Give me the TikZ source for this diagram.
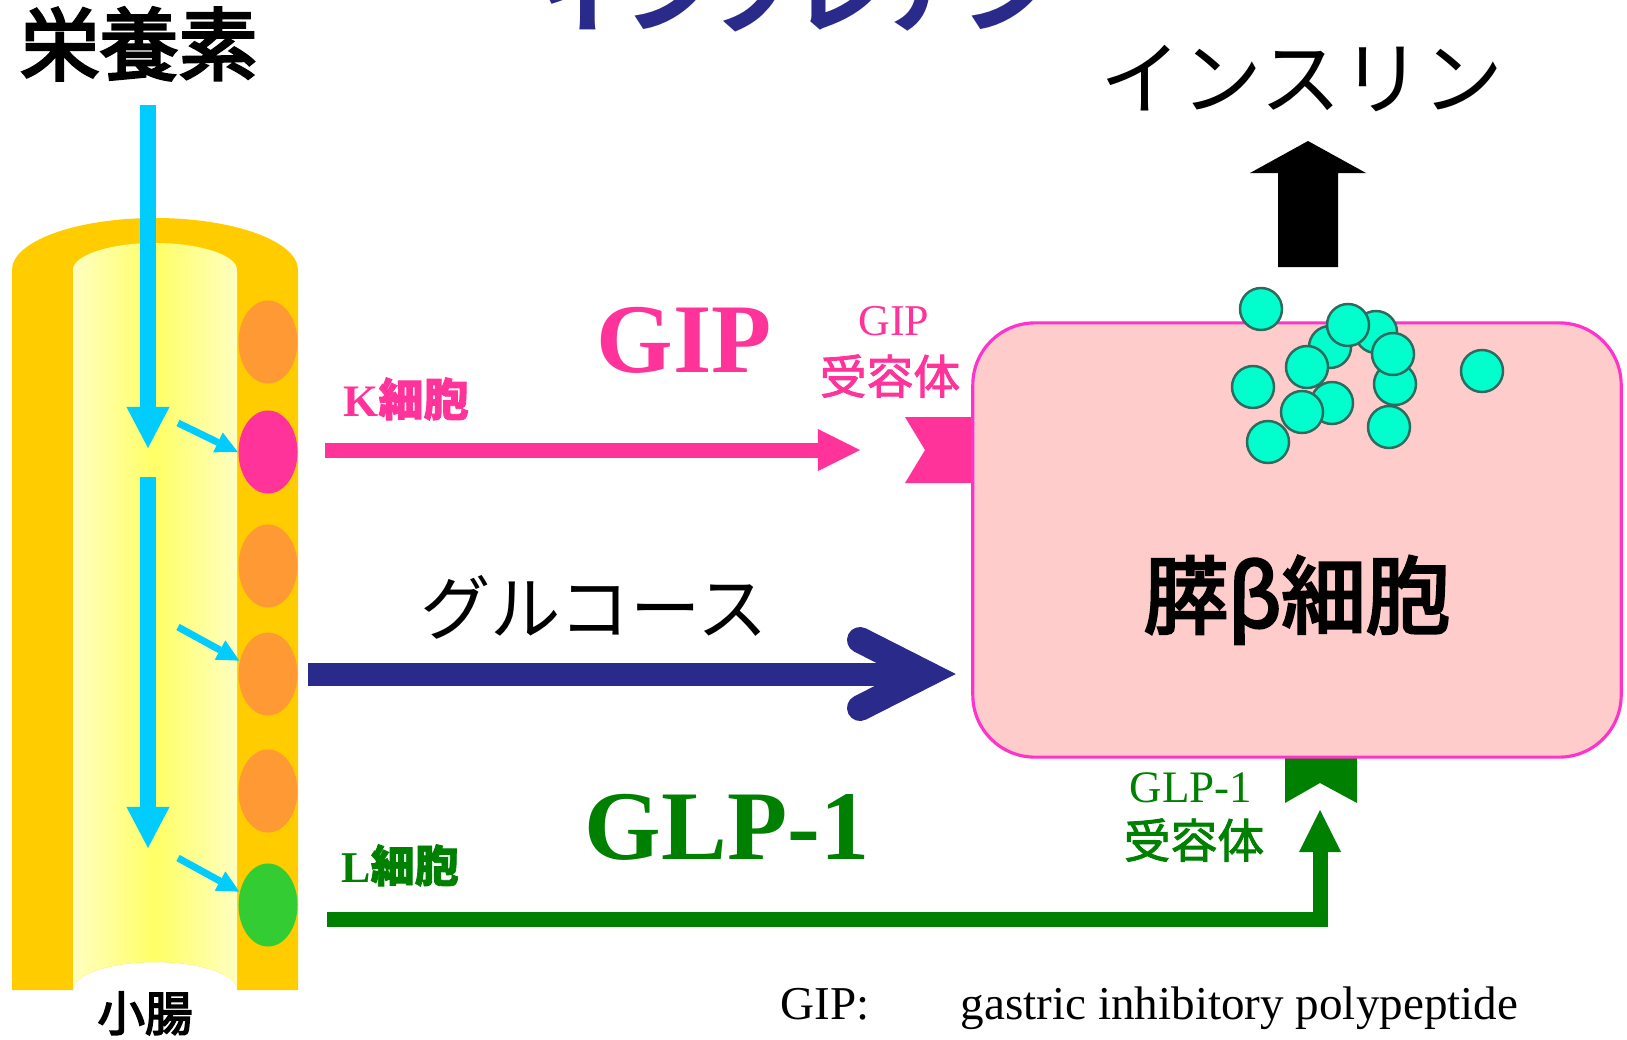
\documentclass[tikz,border=0pt]{standalone}
\usepackage{fontspec}
\setmainfont{Liberation Serif}
\newfontfamily\jp{Noto Sans CJK JP}
\newfontfamily\jpsemi[FakeBold=3.5]{Noto Sans CJK JP}
\newfontfamily\jplite[FakeBold=1.8]{Noto Sans CJK JP}
\usepackage{xcolor}
\usetikzlibrary{arrows.meta,shapes.geometric}

\definecolor{gippink}{HTML}{FF3399}
\definecolor{glpgreen}{HTML}{008000}
\definecolor{lgreen}{HTML}{33CC33}
\definecolor{cellorange}{HTML}{FF9933}
\definecolor{wallyellow}{HTML}{FFCC00}
\definecolor{lumenmid}{HTML}{FFFF66}
\definecolor{lumenedge}{HTML}{FFFFC0}
\definecolor{flowcyan}{HTML}{00CCFF}
\definecolor{glunavy}{HTML}{2A2A8A}
\definecolor{cellpink}{HTML}{FFCCCC}
\definecolor{cellrim}{HTML}{FF33CC}
\definecolor{granfill}{HTML}{00FFCC}
\definecolor{granrim}{HTML}{2E6B5E}

\begin{document}
\begin{tikzpicture}[x=0.01cm, y=-0.01cm,
  every node/.style={inner sep=0pt},
  flow/.style={flowcyan, line width=1.5mm, -{Triangle[length=4.1mm, width=4.3mm, line width=0pt]}},
  nudge/.style={flowcyan, line width=0.7mm, -{Triangle[length=2.2mm, width=2.2mm, line width=0pt]}},
  gutcell/.style={ellipse, minimum width=5.9mm, minimum height=8.3mm},
  hormone/.style={line width=1.5mm, line join=miter, -{Triangle[length=4.2mm, width=4.2mm, line width=0pt]}},
  betabox/.style={draw=cellrim, fill=cellpink, line width=0.9pt, rounded corners=6.2mm,
    minimum width=64.8mm, minimum height=43.4mm},
  granule/.style={draw=granrim, fill=granfill, line width=0.7pt},
  glucose/.style={glunavy, line width=2.3mm},
  chevron/.style={glunavy, line width=2.6mm, line cap=round, line join=miter},
  jplabel/.style={font=\jp, anchor=base}
]
\useasboundingbox (0,0) rectangle (1627,1039);
\fill[white] (0,0) rectangle (1627,1039);

% ------------------------
% Headings
% ------------------------
\node[jplabel, glunavy, font=\jp\bfseries\fontsize{24}{28}\selectfont] (incretin) at (795,25) {インクレチン};
\node[jplabel, font=\jpsemi\fontsize{22.5}{27}\selectfont] (nutr) at (139,74) {栄養素};
\node[jplabel, font=\jp\fontsize{23}{27}\selectfont] (insulin) at (1302,108) {インスリン};

% ------------------------
% Small intestine
% ------------------------
\fill[wallyellow] (12,990) -- (12,270) arc[start angle=180, end angle=360, x radius=143, y radius=52]
  -- (298,990) -- (237,990) arc[start angle=360, end angle=180, x radius=82, y radius=28] -- cycle;
\shade[left color=lumenedge, right color=lumenedge, middle color=lumenmid]
  (73,990) -- (73,270) arc[start angle=180, end angle=360, x radius=82, y radius=27]
  -- (237,990) arc[start angle=360, end angle=180, x radius=82, y radius=28] -- cycle;

% gut cells in the wall
\node[gutcell, fill=cellorange] (cellA) at (268,342) {};
\node[gutcell, fill=gippink] (kcell) at (268,452) {};
\foreach \y/\n in {566/cellC, 674/cellD, 791/cellE}{
  \node[gutcell, fill=cellorange] (\n) at (268,\y) {};
}
\node[gutcell, fill=lgreen] (lcell) at (268,905) {};

\node[jplabel, font=\jpsemi\fontsize{13.5}{16}\selectfont] (gut) at (145,1031) {小腸};

% nutrients flowing down
\coordinate (flowA) at (148,105);
\coordinate (flowB) at (148,448);
\coordinate (flowC) at (148,477);
\coordinate (flowD) at (148,848);
\draw[flow] (flowA) -- (flowB);
\draw[flow] (flowC) -- (flowD);

\draw[nudge] (178,423) -- (kcell.west);
\draw[nudge] (178,627) -- (cellD.155);
\draw[nudge] (178,858) -- (lcell.155);

% ------------------------
% Receptors and beta cell
% ------------------------
\fill[gippink] (905,417) -- (975,417) -- (975,483) -- (905,483) -- (925,450) -- cycle;
\fill[glpgreen] (1285,755) -- (1357,755) -- (1357,803) -- (1320,783) -- (1285,803) -- cycle;

\node[betabox] (beta) at (1297,540) {};
\node[jplabel, font=\jpsemi\fontsize{24}{28}\selectfont] (betalbl) at (1297,627) {膵β細胞};

% insulin granules
\foreach \x/\y in {1376/332, 1330/347, 1348/325, 1395/384, 1393/354, 1307/367, 1332/403,
                   1302/412, 1389/427, 1261/309, 1253/387, 1268/442, 1482/371}{
  \draw[granule] (\x,\y) circle (21);
}

% insulin release
\fill[black] (1278,267) -- (1278,173) -- (1250,173) -- (1308,141) -- (1366,173)
  -- (1338,173) -- (1338,267) -- cycle;

% ------------------------
% GIP
% ------------------------
\coordinate (kout) at (325,450);
\coordinate (gipin) at (860,450);
\draw[hormone, gippink] (kout) -- (gipin);
\node[anchor=base, gippink, font=\bfseries\fontsize{12.8}{15}\selectfont] (klbl) at (406,416) {K{\jplite 細胞}};
\node[anchor=base, gippink, font=\bfseries\fontsize{28}{32}\selectfont] (giplbl) at (684,372) {GIP};
\node[anchor=base, gippink, font=\fontsize{12.5}{15}\selectfont] (giprc) at (894,335) {GIP};
\node[jplabel, gippink, font=\jplite\fontsize{13.3}{16}\selectfont] (giprcb) at (890,394) {受容体};

% ------------------------
% Glucose
% ------------------------
\coordinate (glout) at (308,674);
\coordinate (gluin) at (927,674);
\draw[glucose] (glout) -- (gluin);
\draw[chevron] (gluin) ++(-67,-34) -- (gluin) -- ++(-67,34);
\node[jplabel, font=\jp\fontsize{20}{24}\selectfont] (glulbl) at (594,634) {グルコース};

% ------------------------
% GLP-1
% ------------------------
\coordinate (lout) at (327,919);
\coordinate (glpin) at (1320,810);
\draw[hormone, glpgreen] (lout) -| (glpin);
\node[anchor=base, glpgreen, font=\bfseries\fontsize{12.5}{15}\selectfont] (llbl) at (400,882) {L{\jplite 細胞}};
\node[anchor=base, glpgreen, font=\bfseries\fontsize{28}{32}\selectfont] (glplbl) at (727,859) {GLP-1};
\node[anchor=base, glpgreen, font=\fontsize{12.8}{15}\selectfont] (glprc) at (1191,802) {GLP-1};
\node[jplabel, glpgreen, font=\jplite\fontsize{13.3}{16}\selectfont] (glprcb) at (1194,858) {受容体};

% ------------------------
% Abbreviation
% ------------------------
\node[anchor=base west, font=\fontsize{13.4}{16}\selectfont] (abbr) at (780,1019) {GIP:};
\node[anchor=base west, font=\fontsize{13.4}{16}\selectfont] (abbrtxt) at (960,1019) {gastric inhibitory polypeptide};

\end{tikzpicture}
\end{document}
